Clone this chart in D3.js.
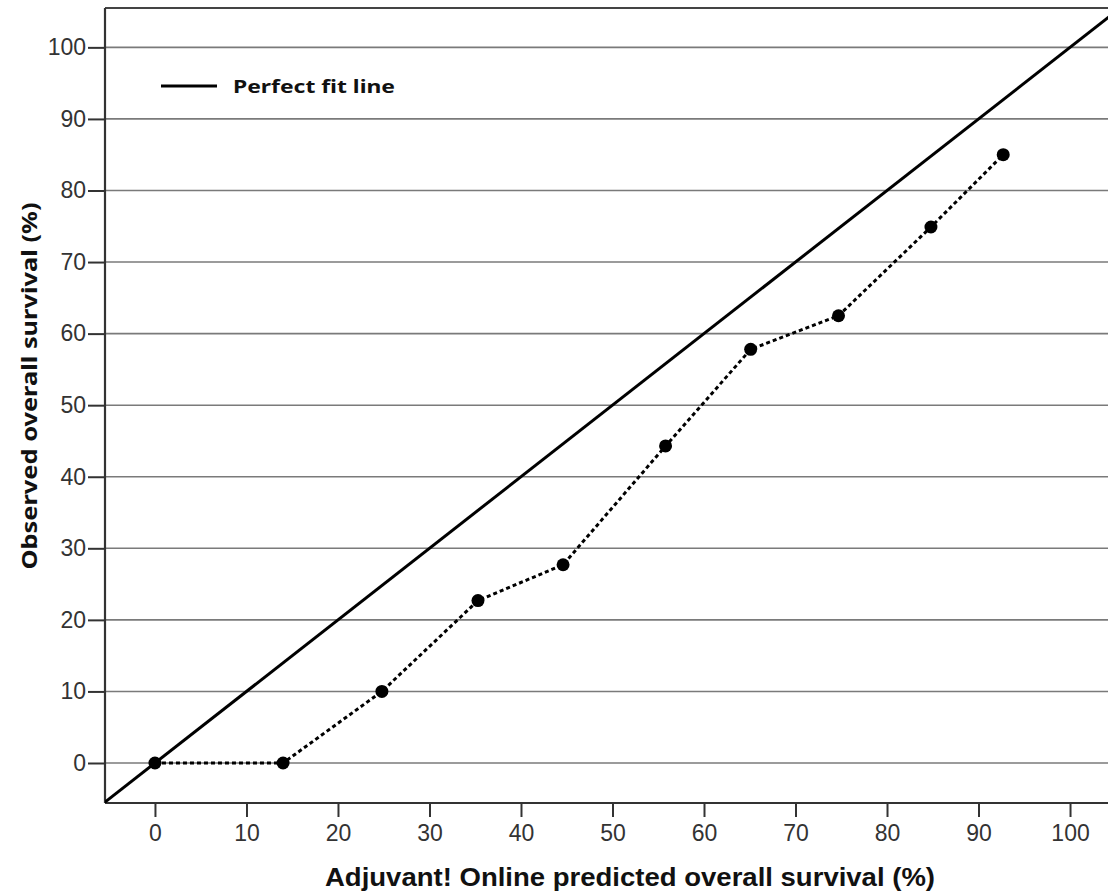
<!DOCTYPE html>
<html>
<head>
<meta charset="utf-8">
<script src="https://cdn.jsdelivr.net/npm/d3@7"></script>
<style>
  body { margin: 0; background: #fff; }
</style>
</head>
<body>
<div id="chart"></div>
<script>
const predicted = [0, 14.0, 24.8, 35.3, 44.6, 55.8, 65.1, 74.7, 84.8, 92.7];
const observed = [0, 0, 10.0, 22.7, 27.7, 44.3, 57.8, 62.5, 74.9, 85.0];
const xTicks = [0, 10, 20, 30, 40, 50, 60, 70, 80, 90, 100];
const yTicks = [0, 10, 20, 30, 40, 50, 60, 70, 80, 90, 100];
const fitLine = [-10, 110];

const W = 1108, H = 894;
const margin = { top: 8, right: 0, bottom: 91, left: 105 };
const width = W - margin.left - margin.right;
const height = H - margin.top - margin.bottom;

const x = d3.scaleLinear().domain([-5.46, 104.15]).range([0, width]);
const y = d3.scaleLinear().domain([-5.59, 105.5]).range([height, 0]);

const tickFont = "'Liberation Sans Narrow', 'Arial Narrow', 'Liberation Sans', Arial, sans-serif";

const svg = d3.select("#chart")
    .append("svg")
    .attr("width", W)
    .attr("height", H);

svg.append("defs").append("clipPath")
    .attr("id", "clip")
    .append("rect")
    .attr("width", width)
    .attr("height", height);

const g = svg.append("g")
    .attr("transform", "translate(" + margin.left + "," + margin.top + ")");

// horizontal gridlines
g.append("g")
    .selectAll("line")
    .data(yTicks)
    .join("line")
    .attr("x1", 0)
    .attr("x2", width)
    .attr("y1", d => y(d))
    .attr("y2", d => y(d))
    .attr("stroke", "#7a7a7a")
    .attr("stroke-width", 1.6);

// top border
g.append("line")
    .attr("x1", 0).attr("x2", width)
    .attr("y1", 0).attr("y2", 0)
    .attr("stroke", "#444")
    .attr("stroke-width", 2);

// axes
const xAxis = d3.axisBottom(x).tickValues(xTicks).tickSize(14).tickSizeOuter(0).tickPadding(8);
const yAxis = d3.axisLeft(y).tickValues(yTicks).tickSize(17).tickSizeOuter(0).tickPadding(2);

const gx = g.append("g")
    .attr("transform", "translate(0," + height + ")")
    .call(xAxis);
const gy = g.append("g").call(yAxis);

[gx, gy].forEach(a => {
    a.select(".domain").attr("stroke", "#333").attr("stroke-width", 2.2);
    a.selectAll(".tick line").attr("stroke", "#333").attr("stroke-width", 2);
    a.selectAll(".tick text")
        .attr("fill", "#333")
        .attr("font-family", tickFont)
        .attr("font-size", "23px");
});
gx.select(".domain").attr("d", "M0,0H" + width);
gy.select(".domain").attr("d", "M0," + height + "V0");

// perfect fit line
const plot = g.append("g").attr("clip-path", "url(#clip)");
plot.append("line")
    .attr("x1", x(fitLine[0])).attr("y1", y(fitLine[0]))
    .attr("x2", x(fitLine[1])).attr("y2", y(fitLine[1]))
    .attr("stroke", "#000")
    .attr("stroke-width", 3);

// observed series
const line = d3.line()
    .x((d, i) => x(predicted[i]))
    .y(d => y(d));

plot.append("path")
    .datum(observed)
    .attr("d", line)
    .attr("fill", "none")
    .attr("stroke", "#000")
    .attr("stroke-width", 3)
    .attr("stroke-dasharray", "4,3");

plot.selectAll("circle")
    .data(observed)
    .join("circle")
    .attr("cx", (d, i) => x(predicted[i]))
    .attr("cy", d => y(d))
    .attr("r", 6.5)
    .attr("fill", "#000");

// legend
g.append("line")
    .attr("x1", 56).attr("x2", 112)
    .attr("y1", 78).attr("y2", 78)
    .attr("stroke", "#000")
    .attr("stroke-width", 3);
g.append("text")
    .attr("x", 128)
    .attr("y", 85)
    .attr("font-family", "Noto Sans, sans-serif")
    .attr("font-weight", "bold")
    .attr("font-size", "18px")
    .attr("fill", "#111")
    .attr("textLength", 162)
    .attr("lengthAdjust", "spacingAndGlyphs")
    .text("Perfect fit line");

// axis titles
svg.append("text")
    .attr("x", 630)
    .attr("y", 886)
    .attr("text-anchor", "middle")
    .attr("font-family", tickFont)
    .attr("font-weight", "bold")
    .attr("font-size", "25px")
    .attr("fill", "#111")
    .attr("textLength", 610)
    .attr("lengthAdjust", "spacingAndGlyphs")
    .text("Adjuvant! Online predicted overall survival (%)");

svg.append("text")
    .attr("transform", "translate(37,386) rotate(-90)")
    .attr("text-anchor", "middle")
    .attr("font-family", "Noto Sans, sans-serif")
    .attr("font-weight", "bold")
    .attr("font-size", "21px")
    .attr("fill", "#111")
    .attr("textLength", 367)
    .attr("lengthAdjust", "spacingAndGlyphs")
    .text("Observed overall survival (%)");
</script>
</body>
</html>
